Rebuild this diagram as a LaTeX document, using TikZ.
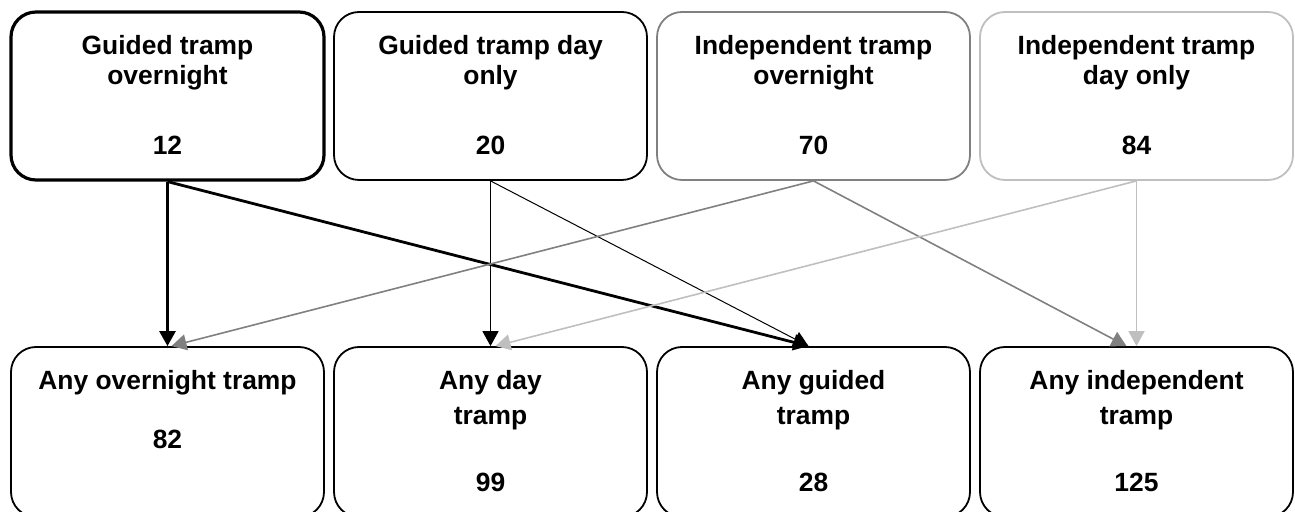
\documentclass[tikz,border=0pt]{standalone}
\usepackage{fontspec}
\setmainfont{Liberation Sans}
\usetikzlibrary{arrows.meta}
\definecolor{midgray}{HTML}{808080}
\definecolor{lightgray}{HTML}{BFBFBF}
\tikzset{
  box/.style={draw, rounded corners=12.5pt, minimum width=156.5pt, line width=0.9pt},
  topbox/.style={box, minimum height=84pt},
  botbox/.style={box, minimum height=85pt},
  lbl/.style={anchor=base, inner sep=0pt, font=\fontsize{13.2pt}{15pt}\selectfont\bfseries},
  link/.style={->, line width=0.8pt},
}
\begin{document}
\begin{tikzpicture}[x=0.5pt,y=-0.5pt, line join=round, >={Triangle[length=7.5pt,width=8pt]}]
            \def\dx{323} \def\xa{167.5} \def\yt{96} \def\yb{432}
            \useasboundingbox (0,0) rectangle (1295,512);
            % top row
            \node[topbox, line width=1.6pt] (t1) at (\xa,\yt) {};
            \node[topbox] (t2) at (\xa+\dx,\yt) {};
            \node[topbox, draw=midgray] (t3) at (\xa+2*\dx,\yt) {};
            \node[topbox, draw=lightgray] (t4) at (\xa+3*\dx,\yt) {};
            \foreach \i/\l/\m/\n in {0/Guided tramp/overnight/12, 1/Guided tramp day/only/20,
                    2/Independent tramp/overnight/70, 3/Independent tramp/day only/84} {
                \node[lbl] (tl\i) at (\xa+\i*\dx,55) {\l};
                \node[lbl] (tm\i) at (\xa+\i*\dx,85) {\m};
                \node[lbl] (tn\i) at (\xa+\i*\dx,155) {\n};
            }
            % bottom row
            \node[botbox] (b1) at (\xa,\yb) {};
            \node[botbox] (b2) at (\xa+\dx,\yb) {};
            \node[botbox] (b3) at (\xa+2*\dx,\yb) {};
            \node[botbox] (b4) at (\xa+3*\dx,\yb) {};
            \node[lbl] (bl0) at (\xa,390) {Any overnight tramp};
            \node[lbl] (bn0) at (\xa,449) {82};
            \foreach \i/\l/\n in {1/Any day/99, 2/Any guided/28, 3/Any independent/125} {
                \node[lbl] (bl\i) at (\xa+\i*\dx,390) {\l};
                \node[lbl] (bm\i) at (\xa+\i*\dx,425) {tramp};
                \node[lbl] (bn\i) at (\xa+\i*\dx,492) {\n};
            }
            % links
            \draw[link, line width=1.4pt] (t1.south) -- (b1.north);
            \draw[link, line width=1.4pt] (t1.south) -- ([xshift=-2.5pt]b3.north);
            \draw[link] (t2.south) -- (b2.north);
            \draw[link, line width=0.5pt] (t2.south) -- ([xshift=-2.5pt]b3.north);
            \draw[link, midgray] (t3.south) -- ([xshift=2pt]b1.north);
            \draw[link, midgray] (t3.south) -- ([xshift=-5pt]b4.north);
            \draw[link, lightgray] (t4.south) -- ([xshift=2.5pt]b2.north);
            \draw[link, lightgray] (t4.south) -- (b4.north);
\end{tikzpicture}
\end{document}
